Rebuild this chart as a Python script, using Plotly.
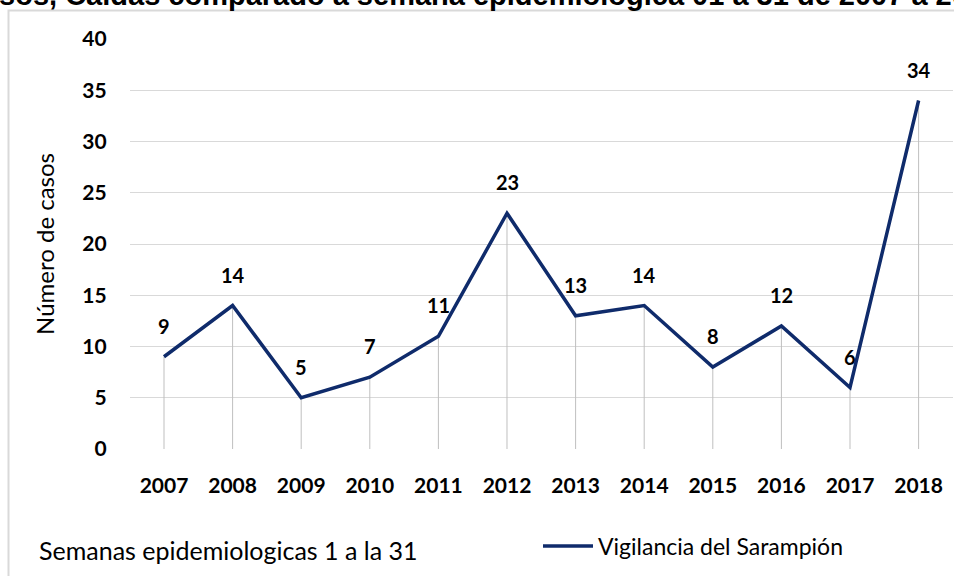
import plotly.graph_objects as go

years = ["2007", "2008", "2009", "2010", "2011", "2012", "2013", "2014", "2015", "2016", "2017", "2018"]
cases = [9, 14, 5, 7, 11, 23, 13, 14, 8, 12, 6, 34]
series_name = "Vigilancia del Sarampión"
y_title = "Número de casos"
note_text = "Semanas epidemiologicas 1 a la 31"
title_text = "Casos, Caldas comparado a semana epidemiologica 01 a 31 de 2007 a 2018"

W, H = 954, 576
NAVY = "#0f2b6b"
FONT = "Lato"

# drop lines from each point down to zero
drop_x, drop_y = [], []
for yr, v in zip(years, cases):
    drop_x += [yr, yr, None]
    drop_y += [0, v, None]

fig = go.Figure()
fig.add_trace(go.Scatter(x=drop_x, y=drop_y, mode="lines",
                         line=dict(color="#bfbfbf", width=1),
                         showlegend=False, hoverinfo="skip"))
fig.add_trace(go.Scatter(x=years, y=cases, mode="lines", name=series_name,
                         line=dict(color=NAVY, width=3.5)))


def px_x(p):
    return p / W


def px_y(p):
    return 1 - p / H


# data labels (category index positions on the x axis)
label_annotations = [
    dict(x=i, y=v, xref="x", yref="y", text=str(v), showarrow=False,
         yshift=31, xanchor="center", yanchor="middle",
         font=dict(family=FONT, size=20, color="#000000", weight="bold"))
    for i, v in enumerate(cases)
]

fig.update_layout(
    width=W, height=H,
    margin=dict(l=0, r=0, t=0, b=0),
    paper_bgcolor="white", plot_bgcolor="white",
    font=dict(family=FONT, color="#000000"),
    xaxis=dict(type="category", domain=[px_x(129.7), px_x(952.9)], range=[-0.5, 11.5],
               showgrid=False, zeroline=False, showline=False, ticks="", automargin=False,
               tickfont=dict(family=FONT, size=21, weight="bold"), ticklabelstandoff=22),
    yaxis=dict(range=[0, 40], domain=[px_y(449), px_y(39)], dtick=5, automargin=False,
               showgrid=True, gridcolor="#d9d9d9", gridwidth=1, zeroline=False,
               showline=False, ticks="",
               tickfont=dict(family=FONT, size=21, weight="bold"), ticklabelstandoff=22,
               title=dict(text=y_title, font=dict(family=FONT, size=24), standoff=20)),
    legend=dict(x=px_x(538), y=px_y(546), xanchor="left", yanchor="middle",
                font=dict(family=FONT, size=23), itemwidth=50, bgcolor="rgba(0,0,0,0)"),
    showlegend=True,
    shapes=[dict(type="rect", xref="paper", yref="paper",
                 x0=px_x(8.5), x1=px_x(1000), y0=px_y(700), y1=px_y(10.5),
                 line=dict(color="#d9d9d9", width=2), layer="below")],
    annotations=label_annotations + [
        dict(text=note_text, xref="paper", yref="paper", x=px_x(37), y=px_y(550),
             xanchor="left", yanchor="middle", showarrow=False,
             font=dict(family=FONT, size=25, color="#000000")),
        dict(text="<b>" + title_text + "</b>", xref="paper", yref="paper",
             x=px_x(-40), y=px_y(13), xanchor="left", yanchor="bottom", showarrow=False,
             font=dict(family="Liberation Sans", size=29, color="#000000")),
    ],
)

fig.write_html("out.html", config={"displayModeBar": False},
               post_script="document.body.style.margin='0';document.body.style.overflow='hidden';")
